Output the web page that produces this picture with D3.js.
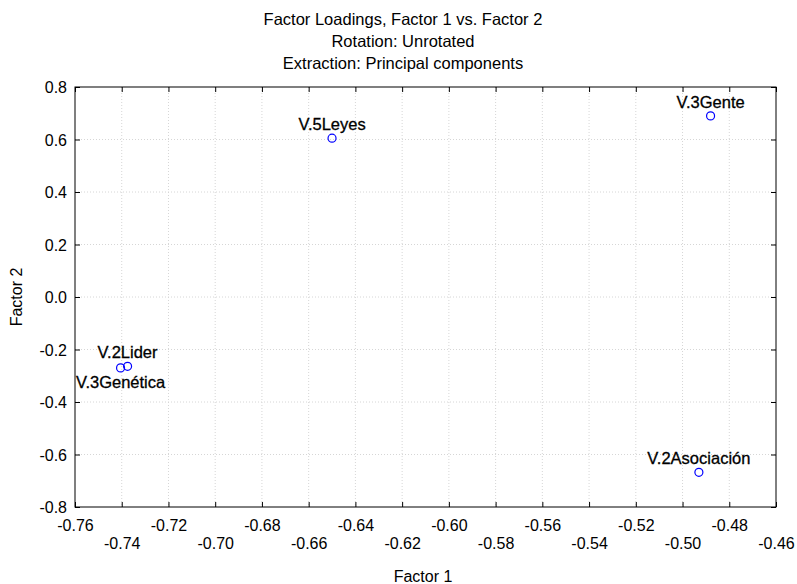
<!DOCTYPE html>
<html>
<head>
<meta charset="utf-8">
<script src="https://cdn.jsdelivr.net/npm/d3@7"></script>
<style>
  html, body { margin: 0; padding: 0; background: #fff; }
  text { font-family: "Liberation Sans", Arial, sans-serif; fill: #000; }
</style>
</head>
<body>
<svg id="chart" width="797" height="584"></svg>
<script>
// Factor loadings for each variable
const variables = ["V.2Lider", "V.3Genética", "V.5Leyes", "V.3Gente", "V.2Asociación"];
const factor1 = [-0.7375, -0.7405, -0.650, -0.488, -0.493];
const factor2 = [-0.264, -0.270, 0.605, 0.690, -0.668];
// Labels drawn under their point instead of above it
const labelsBelow = ["V.3Genética"];

const xTicks = d3.range(-0.76, -0.4599, 0.02).map(v => +v.toFixed(2));
const yTicks = d3.range(-0.8, 0.8001, 0.2).map(v => +v.toFixed(1));

const titleLines = [
  "Factor Loadings, Factor 1 vs. Factor 2",
  "Rotation: Unrotated",
  "Extraction: Principal components"
];

const svg = d3.select("#chart");
const m = { left: 75, right: 21, top: 87, bottom: 77 };
const W = 797, H = 584;

const x = d3.scaleLinear().domain([-0.76, -0.46]).range([m.left, W - m.right]);
const y = d3.scaleLinear().domain([-0.8, 0.8]).range([H - m.bottom, m.top]);

// Plain hyphen for negative numbers
const fmtX = v => d3.format(".2f")(v).replace("\u2212", "-");
const fmtY = v => d3.format(".1f")(v).replace("\u2212", "-");

// Title block
svg.append("g").selectAll("text").data(titleLines).join("text")
  .attr("x", 403).attr("y", (d, i) => 19 + i * 22)
  .attr("text-anchor", "middle").attr("dominant-baseline", "central")
  .style("font-size", "16.5px").text(d => d);

// Dotted grid
const grid = svg.append("g").attr("stroke", "#d6d6d6").attr("stroke-dasharray", "1,2");
grid.selectAll("line.v").data(xTicks.slice(1, -1)).join("line").attr("class", "v")
  .attr("x1", d => x(d)).attr("x2", d => x(d)).attr("y1", y(0.8)).attr("y2", y(-0.8));
grid.selectAll("line.h").data(yTicks.slice(1, -1)).join("line").attr("class", "h")
  .attr("y1", d => y(d)).attr("y2", d => y(d)).attr("x1", x(-0.76)).attr("x2", x(-0.46));

// Axes with inward ticks on all four sides
const tk = 5;

const gB = svg.append("g").attr("transform", `translate(0,${y(-0.8)})`)
  .call(d3.axisBottom(x).tickValues(xTicks).tickSize(-tk).tickPadding(0).tickFormat(fmtX));
gB.selectAll(".tick text")
  .attr("dy", null)
  .attr("y", (d, i) => i % 2 === 0 ? 18 : 36)
  .attr("dominant-baseline", "central");

const gT = svg.append("g").attr("transform", `translate(0,${y(0.8)})`)
  .call(d3.axisTop(x).tickValues(xTicks).tickSize(-tk).tickFormat(""));

const gL = svg.append("g").attr("transform", `translate(${x(-0.76)},0)`)
  .call(d3.axisLeft(y).tickValues(yTicks).tickSize(-tk).tickPadding(8).tickFormat(fmtY));
gL.selectAll(".tick text").attr("dy", null).attr("dominant-baseline", "central");

const gR = svg.append("g").attr("transform", `translate(${x(-0.46)},0)`)
  .call(d3.axisRight(y).tickValues(yTicks).tickSize(-tk).tickFormat(""));

[gB, gT, gL, gR].forEach(g => {
  g.select(".domain").remove();
  g.selectAll(".tick line").attr("stroke", "#000");
  g.selectAll(".tick text").style("font-size", "16px").attr("fill", "#000")
    .style("font-family", "'Liberation Sans', Arial, sans-serif");
});

// Plot frame
svg.append("rect")
  .attr("x", x(-0.76)).attr("y", y(0.8))
  .attr("width", x(-0.46) - x(-0.76)).attr("height", y(-0.8) - y(0.8))
  .attr("fill", "none").attr("stroke", "#000").attr("stroke-width", 1);

// Axis titles
svg.append("text").attr("x", 423).attr("y", 576)
  .attr("text-anchor", "middle").attr("dominant-baseline", "central")
  .style("font-size", "16px").text("Factor 1");
svg.append("text").attr("transform", `translate(16,${y(0)}) rotate(-90)`)
  .attr("text-anchor", "middle").attr("dominant-baseline", "central")
  .style("font-size", "16px").text("Factor 2");

// Points and their labels
const pts = variables.map((name, i) => ({ name, f1: factor1[i], f2: factor2[i] }));

svg.append("g").selectAll("circle").data(pts).join("circle")
  .attr("cx", d => x(d.f1)).attr("cy", d => y(d.f2)).attr("r", 4)
  .attr("fill", "none").attr("stroke", "#0000ff").attr("stroke-width", 1.2);

svg.append("g").selectAll("text").data(pts).join("text")
  .attr("x", d => x(d.f1))
  .attr("y", d => y(d.f2) + (labelsBelow.includes(d.name) ? 14 : -14))
  .attr("text-anchor", "middle").attr("dominant-baseline", "central")
  .attr("stroke", "#000").attr("stroke-width", 0.3)
  .style("font-size", "16.5px").text(d => d.name);
</script>
</body>
</html>
